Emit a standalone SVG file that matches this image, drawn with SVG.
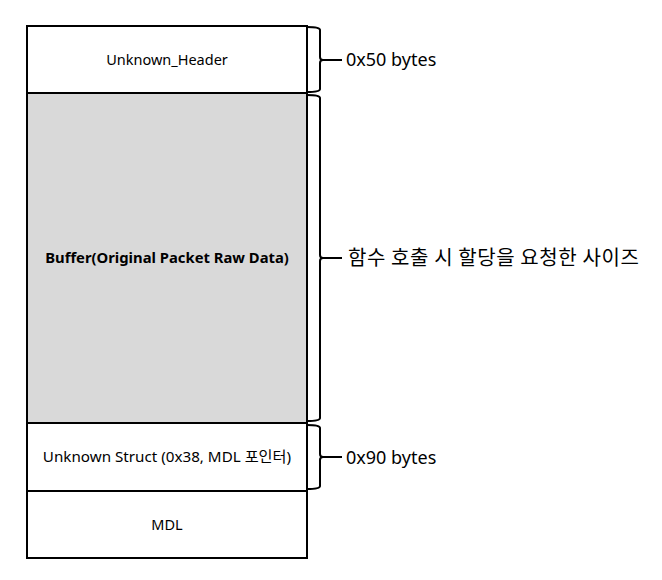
<svg xmlns="http://www.w3.org/2000/svg" width="662" height="580" viewBox="0 0 662 580">
<style>
.box{stroke:#000;stroke-width:2}
.t{font-family:"Noto Sans","Noto Sans CJK KR",sans-serif;font-size:14.5px;fill:#000;text-anchor:middle}
.b{font-weight:bold;font-size:14.8px}
.lbl{font-family:"Noto Sans","Noto Sans CJK KR",sans-serif;font-size:18px;fill:#000}
.ko{font-family:"Noto Sans CJK KR",sans-serif;font-size:20px;letter-spacing:0.6px;fill:#000}
.br{fill:none;stroke:#000;stroke-width:2}
</style>
<rect width="662" height="580" fill="#fff"/>
<g id="unknown_header">
<rect class="box" x="27" y="26" width="280" height="67" fill="#fff"/>
<text class="t" x="167" y="65">Unknown_Header</text>
</g>
<g id="buffer">
<rect class="box" x="27" y="93" width="280" height="330" fill="#d9d9d9"/>
<text class="t b" x="167" y="263">Buffer(Original Packet Raw Data)</text>
</g>
<g id="unknown_struct">
<rect class="box" x="27" y="423" width="280" height="68" fill="#fff"/>
<text class="t" x="167" y="462" style="font-size:15.2px">Unknown Struct (0x38, MDL 포인터)</text>
</g>
<g id="mdl">
<rect class="box" x="27" y="491" width="280" height="67" fill="#fff"/>
<text class="t" x="167" y="530">MDL</text>
</g>
<g id="connectors">
<path class="br" d="M307,27 Q320,27 320,30 L320,57 Q320,60 323,60 L342,60 M323,60 Q320,60 320,63 L320,89 Q320,92 307,92"/>
<path class="br" d="M307,95 Q320,95 320,98 L320,255 Q320,258 323,258 L342,258 M323,258 Q320,258 320,261 L320,418 Q320,421 307,421"/>
<path class="br" d="M307,425 Q320,425 320,428 L320,454 Q320,457 323,457 L342,457 M323,457 Q320,457 320,460 L320,486 Q320,489 307,489"/>
</g>
<text class="lbl" x="346" y="66">0x50 bytes</text>
<text class="ko" x="348" y="265">함수 호출 시 할당을 요청한 사이즈</text>
<text class="lbl" x="346" y="464">0x90 bytes</text>
</svg>
